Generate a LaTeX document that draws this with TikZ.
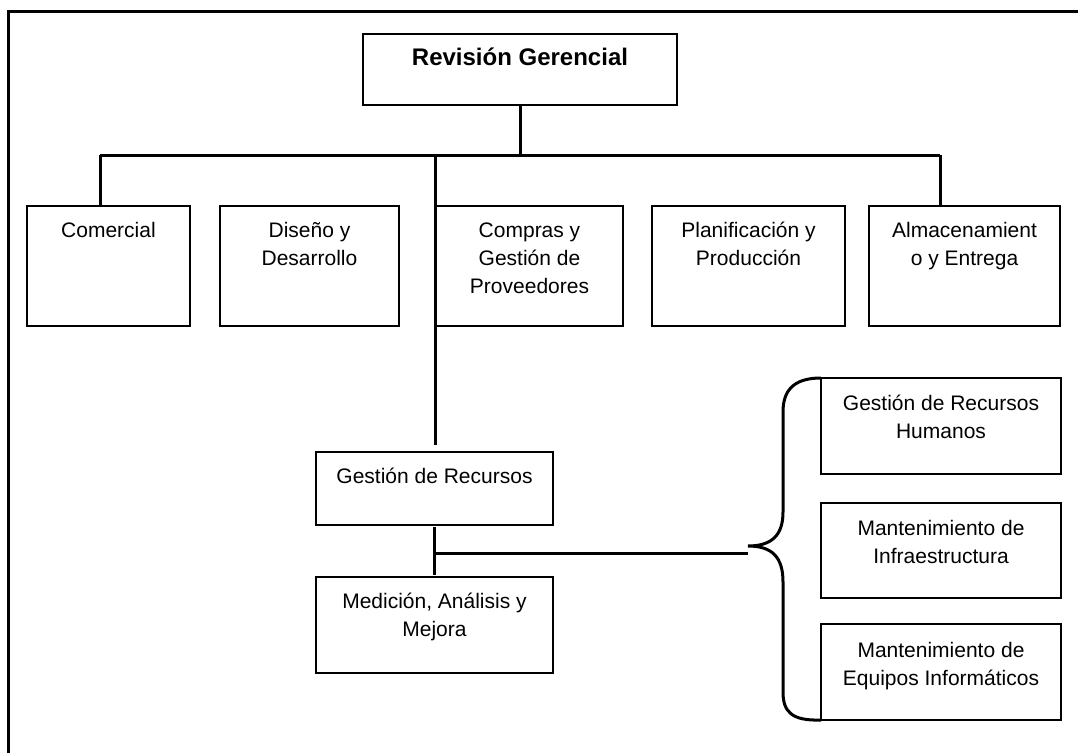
\documentclass[tikz,border=0pt]{standalone}
\usepackage{fontspec}
\setmainfont{Liberation Sans}
\newcommand\bxt[4]{\parbox[t][#2pt][t]{#1pt}{\fontsize{21}{28}\selectfont\centering\rule{0pt}{#3pt}#4\par}}
\begin{document}
\begin{tikzpicture}[x=1pt,y=-1pt,
  bx/.style={draw, line width=1.5pt, inner sep=0pt, outer sep=0pt, anchor=north west},
  conn/.style={line width=3pt},
  bracepath/.style={line width=3pt},
  frame/.style={line width=3pt}]
\useasboundingbox (0,0) rectangle (1078,752);
\clip (0,0) rectangle (1078,752);
\draw[frame] (8.5,780) -- (8.5,11.5) -- (1100,11.5);
% boxes
\node[bx] (top) at (363,34) {\bxt{314}{71}{32}{\bfseries\fontsize{24}{28}\selectfont Revisión Gerencial}};
\node[bx] (com) at (27,206) {\bxt{163}{120}{31}{Comercial}};
\node[bx] (dis) at (220,206) {\bxt{179}{120}{31}{Diseño y\\Desarrollo}};
\node[bx] (cpr) at (436,206) {\bxt{187}{120}{31}{Compras y\\Gestión de\\Proveedores}};
\node[bx] (pla) at (652,206) {\bxt{193}{120}{31}{Planificación y\\Producción}};
\node[bx] (alm) at (869,206) {\bxt{191}{120}{31}{Almacenamient\\o y Entrega}};
\node[bx] (ger) at (316,452) {\bxt{237}{73}{31}{Gestión de Recursos}};
\node[bx] (med) at (316,577) {\bxt{237}{96}{31}{Medición, Análisis y\\Mejora}};
\node[bx] (grh) at (821,378) {\bxt{240}{96}{32}{Gestión de Recursos\\Humanos}};
\node[bx] (mi) at (821,503) {\bxt{240}{95}{32}{Mantenimiento de\\Infraestructura}};
\node[bx] (me) at (821,624) {\bxt{240}{96}{33}{Mantenimiento de\\Equipos Informáticos}};
% connectors
\coordinate (jL) at (100,155);
\coordinate (jR) at (940,155);
\coordinate (jM) at (435,155);
\coordinate (gTop) at (435,445);
\coordinate (bj) at (435,553);
\coordinate (bt) at (748,553);
\draw[conn] (top.south) -- (top.south |- jL);
\draw[conn] (jL) -- (jR);
\draw[conn] (jL) -- (jL |- com.north);
\draw[conn] (jR) -- (jR |- alm.north);
\draw[conn] (jM) -- (gTop);
\draw[conn] ([yshift=-2pt]ger.south) -- ([yshift=2pt]med.north);
\draw[conn] (bj) -- (bt);
% brace
\draw[bracepath] (grh.north west) .. controls (792,378) and (783,392) .. (783,412)
  -- (783,512) .. controls (783,535) and (772,546) .. (748,546)
  .. controls (772,546) and (783,557) .. (783,582)
  -- (783,692) .. controls (783,712) and (792,721) .. (me.south west);
\end{tikzpicture}
\end{document}
